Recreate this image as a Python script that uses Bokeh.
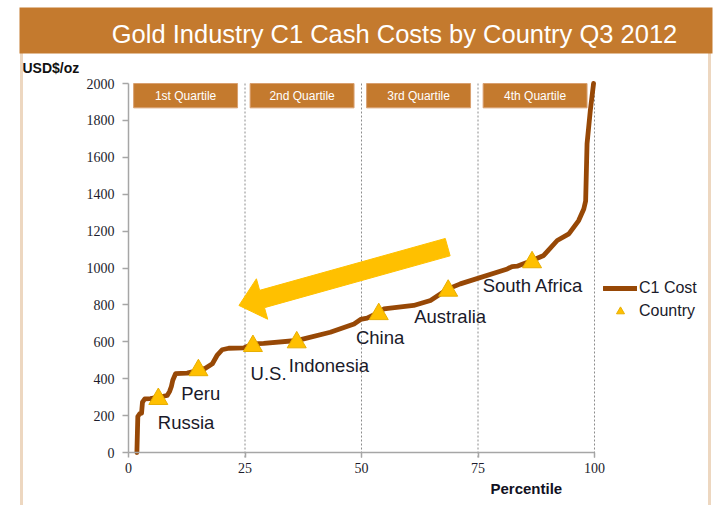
import numpy as np
from bokeh.plotting import figure
from bokeh.models import (Range1d, BoxAnnotation, Label, Legend, LegendItem,
                          FixedTicker)
from bokeh.core.properties import value
from bokeh.embed import file_html
from bokeh.resources import INLINE

# ---------------- data ----------------
TITLE = "Gold Industry C1 Cash Costs by Country Q3 2012"
Y_LABEL = "USD$/oz"
X_LABEL = "Percentile"

curve_x = [1.8, 2.0, 2.4, 2.8, 3.0, 3.5, 4.7, 6.5, 8.3, 8.8,
           9.2, 9.5, 10.1, 12.6, 13.7, 16.5, 18.0, 19.0, 20.1, 21.5,
           24.7, 26.9, 29.0, 36.1, 37.6, 43.3, 48.4, 49.8, 51.2, 53.7,
           54.8, 61.2, 64.8, 67.0, 68.6, 71.2, 81.3, 82.3, 83.4, 86.6,
           89.1, 92.0, 94.5, 96.6, 97.7, 98.1, 98.4, 99.1, 99.8]
curve_y = [0, 195, 210, 213, 273, 291, 292, 300, 309, 330,
           358, 392, 427, 430, 437, 456, 481, 526, 557, 565,
           567, 589, 592, 607, 616, 652, 697, 721, 728, 760,
           778, 797, 824, 860, 887, 914, 995, 1008, 1010, 1041,
           1068, 1149, 1185, 1257, 1320, 1363, 1673, 1853, 2000]

countries = ["Russia", "Peru", "U.S.", "Indonesia", "China", "Australia", "South Africa"]
country_x = [6.4, 15.0, 26.7, 36.1, 53.7, 68.6, 86.6]
country_y = [290, 446, 577, 597, 750, 877, 1031]
# label anchor (left, middle) for each country name
label_x = [6.3, 11.3, 26.2, 34.4, 48.8, 61.3, 76.0]
label_y = [163, 318, 428, 470, 623, 737, 907]

quartile_names = ["1st Quartile", "2nd Quartile", "3rd Quartile", "4th Quartile"]
quartile_start = [0, 25, 50, 75]
quartile_bounds = [25, 50, 75, 100]

x_ticks = [0, 25, 50, 75, 100]
y_ticks = list(range(0, 2001, 200))

ORANGE = "#C47A2E"
BROWN = "#974806"
GOLD = "#FFC000"

# ---------------- layout (pixels) ----------------
W, H = 714, 505
PL, PR, PT, PB = 128, 594, 83, 452          # where the data box (0..100, 0..2000) sits
X0, X1, Y0, Y1 = 0, 100, 0, 2000
sx = (PR - PL) / (X1 - X0)
sy = (PB - PT) / (Y1 - Y0)

p = figure(width=W, height=H,
           min_border_left=0, min_border_right=0,
           min_border_top=0, min_border_bottom=0,
           x_range=Range1d(X0 - PL / sx, X1 + (W - PR) / sx),
           y_range=Range1d(Y0 - (H - PB) / sy, Y1 + PT / sy),
           output_backend="svg", toolbar_location=None,
           background_fill_color="white", border_fill_color="white")
p.outline_line_color = None
p.grid.visible = False

# axes drawn at the data origin, bounded to the data box
p.xaxis.fixed_location = 0
p.yaxis.fixed_location = 0
p.xaxis.bounds = (X0, X1)
p.yaxis.bounds = (Y0, Y1)
for ax in (p.xaxis, p.yaxis):
    ax.axis_line_color = "#A6A6A6"
    ax.axis_line_width = 1.5
    ax.major_tick_line_color = "#A6A6A6"
    ax.major_tick_line_width = 1.5
    ax.major_tick_in = 0
    ax.minor_tick_line_color = None
    ax.major_label_text_font = "Liberation Serif"
    ax.major_label_text_font_size = "14px"
    ax.major_label_text_color = "#1c1c2c"
p.xaxis.ticker = FixedTicker(ticks=x_ticks)
p.yaxis.ticker = FixedTicker(ticks=y_ticks)
p.xaxis.major_tick_out = 5
p.yaxis.major_tick_out = 6
p.xaxis.major_label_standoff = 5
p.yaxis.major_label_standoff = 8

# dashed quartile separators (reach a little below the axis like ticks)
p.segment(x0=quartile_bounds, x1=quartile_bounds,
          y0=[Y0 - 5 / sy] * 4, y1=[Y1] * 4,
          line_color="#8c8c8c", line_dash="2 2", line_width=1)

# quartile header boxes
q_left = [q + 1.1 for q in quartile_start]
q_right = [q + 23.4 for q in quartile_start]
q_mid = [q + 12.25 for q in quartile_start]
p.quad(left=q_left, right=q_right, top=[2000] * 4, bottom=[1868] * 4,
       fill_color=ORANGE, line_color="#D9A070", line_width=1)
p.text(x=q_mid, y=[1934] * 4, text=quartile_names,
       text_font=value("Liberation Sans"), text_font_size="12px",
       text_color="white", text_align="center", text_baseline="middle")

# big arrow (annotation) built in pixel space, then mapped back to data
tail = np.array([68.5 * sx, 1113 * sy])
tip = np.array([23.7 * sx, 797 * sy])
u = (tip - tail) / np.linalg.norm(tip - tail)
n = np.array([-u[1], u[0]])
neck = tip - u * 24
shaft, head = 9.0, 21.0
pts = [tail + n * shaft, neck + n * shaft, neck + n * head, tip,
       neck - n * head, neck - n * shaft, tail - n * shaft]
p.patch([q[0] / sx for q in pts], [q[1] / sy for q in pts],
        fill_color=GOLD, line_color=GOLD, line_width=1)

# cost curve
line_r = p.line(curve_x, curve_y, line_color=BROWN, line_width=4.8,
                line_join="round", line_cap="round")

# countries
tri_r = p.scatter(country_x, country_y, marker="triangle", size=19,
                  fill_color=GOLD, line_color="#E8AE00", line_width=1)
p.text(x=label_x, y=label_y, text=countries,
       text_font=value("Liberation Sans"), text_font_size="18.5px",
       text_color="#1a1a2a", text_align="left", text_baseline="middle")

# legend (location: bottom-left corner, pixels from the canvas' bottom-left)
legend = Legend(items=[LegendItem(label="C1 Cost", renderers=[line_r]),
                       LegendItem(label="Country", renderers=[tri_r])],
                location=(603, H - 321), orientation="vertical",
                glyph_width=34, glyph_height=20, spacing=3,
                padding=0, margin=0, label_standoff=2,
                label_text_font="Liberation Sans", label_text_font_size="16px",
                label_text_color="#1a1a2a",
                border_line_color=None, background_fill_alpha=0)
p.add_layout(legend)

# frame decoration: orange header and side borders
p.add_layout(BoxAnnotation(left=21, right=709, top=40, bottom=H + 20,
                           left_units="canvas", right_units="canvas",
                           top_units="canvas", bottom_units="canvas",
                           fill_alpha=0, line_color=ORANGE, line_width=3))
p.add_layout(BoxAnnotation(left=19, right=712, top=7, bottom=53,
                           left_units="canvas", right_units="canvas",
                           top_units="canvas", bottom_units="canvas",
                           fill_color=ORANGE, fill_alpha=1, line_color=None))

p.add_layout(Label(x=394, y=33, x_units="canvas", y_units="canvas", text=TITLE,
                   text_font="Liberation Sans", text_font_size="25.5px",
                   text_color="white", text_align="center", text_baseline="middle"))
p.add_layout(Label(x=22, y=67, x_units="canvas", y_units="canvas", text=Y_LABEL,
                   text_font="Liberation Sans", text_font_size="14px",
                   text_font_style="bold", text_color="#111111",
                   text_align="left", text_baseline="middle"))
p.add_layout(Label(x=490, y=488, x_units="canvas", y_units="canvas", text=X_LABEL,
                   text_font="Liberation Sans", text_font_size="15px",
                   text_font_style="bold", text_color="#111122",
                   text_align="left", text_baseline="middle"))

open("out.html", "w").write(file_html(p, INLINE))
